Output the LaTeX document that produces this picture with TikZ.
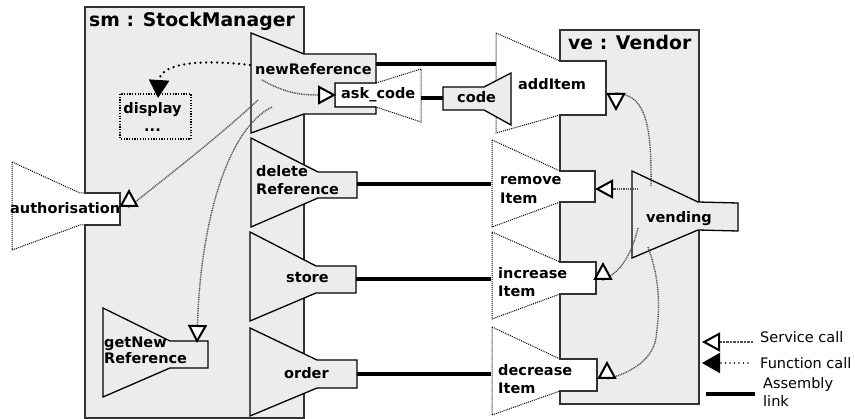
\documentclass[tikz,border=0pt]{standalone}
\usepackage{fontspec}
\setmainfont{DejaVu Sans}
\usetikzlibrary{arrows.meta}
\definecolor{compgray}{RGB}{236,236,236}
\definecolor{edgegray}{RGB}{50,50,50}
\definecolor{callgray}{RGB}{80,80,80}

\begin{document}
\begin{tikzpicture}[x=1pt,y=-1pt,
  component/.style={draw=edgegray, fill=compgray, line width=1.5pt},
  provided/.style={draw=black, fill=compgray, line width=1.3pt},
  required/.style={draw=black, fill=white, line width=1pt, dash pattern=on 1pt off 1pt},
  hidden/.style={draw=black, line width=1.1pt, dash pattern=on 1.2pt off 1.5pt},
  assembly/.style={draw=black, line width=3.2pt},
  service/.style={draw=callgray, line width=1.4pt, dash pattern=on 1pt off 0.8pt,
    -{Triangle[length=18pt, width=19pt, line width=2pt, color=black, fill=white]}},
  function/.style={draw=black, line width=2.6pt, line cap=round, dash pattern=on 0pt off 5.5pt,
    -{Triangle[length=18pt, width=20pt, color=black]}},
  lbl/.style={font=\fontsize{14.5}{17.5}\selectfont\bfseries, inner sep=0pt, anchor=base west},
  ttl/.style={font=\fontsize{18.8}{22}\selectfont\bfseries, inner sep=0pt, anchor=base west},
  legend/.style={font=\fontsize{14.5}{18}\selectfont, inner sep=0pt, anchor=base west}
]
\useasboundingbox (0,0) rectangle (855,419);

% ---------------- sm : StockManager ----------------
\path[required] (12,162) -- (80,193) -- (120,193) -- (120,225) -- (80,225) -- (12,250) -- cycle;
\path[component] (85,7) -- (304,7) -- (304,418) -- (85,418) -- (85,225) -- (120,225)
  -- (120,193) -- (85,193) -- cycle;
\path[hidden] (120,94) rectangle (191,139);

% ask_code sits in a notch of newReference
\path[required] (421,69) -- (376,83) -- (335,83) -- (335,107) -- (376,107) -- (421,122) -- cycle;
\path[provided] (251,33) -- (304,54) -- (376,54) -- (376,83) -- (335,83) -- (335,107)
  -- (376,107) -- (376,114) -- (304,114) -- (251,133) -- cycle;
\path[provided] (251,138) -- (318,172) -- (357,172) -- (357,198) -- (318,198) -- (251,227) -- cycle;
\path[provided] (250,232) -- (316,266) -- (356,266) -- (356,293) -- (316,293) -- (250,321) -- cycle;
\path[provided] (250,328) -- (317,360) -- (357,360) -- (357,388) -- (317,388) -- (250,416) -- cycle;
\path[provided] (103,308) -- (170,341) -- (208,341) -- (208,368) -- (170,368) -- (103,397) -- cycle;

% ---------------- ve : Vendor ----------------
\path[required] (496,33) -- (560,61) -- (606,61) -- (606,115) -- (560,115) -- (496,133) -- cycle;
\path[required] (492,140) -- (560,171) -- (595,171) -- (595,202) -- (560,202) -- (492,227) -- cycle;
\path[required] (492,232) -- (560,262) -- (596,262) -- (596,294) -- (560,294) -- (492,319) -- cycle;
\path[required] (492,327) -- (560,359) -- (597,359) -- (597,391) -- (560,391) -- (492,415) -- cycle;
\path[component] (560,30) -- (699,30) -- (699,404) -- (560,404) -- (560,391) -- (597,391)
  -- (597,359) -- (560,359) -- (560,294) -- (596,294) -- (596,262) -- (560,262)
  -- (560,202) -- (595,202) -- (595,171) -- (560,171) -- (560,115) -- (606,115)
  -- (606,61) -- (560,61) -- cycle;
\path[provided] (632,171) -- (698,202) -- (738,203) -- (738,231) -- (698,230) -- (632,258) -- cycle;
\path[provided] (511,73) -- (484,87) -- (443,87) -- (443,110) -- (484,110) -- (511,125) -- cycle;

% ---------------- connection points ----------------
\coordinate (nrOut)   at (376,64);  \coordinate (addIn)   at (496,64);
\coordinate (askOut)  at (421,98);  \coordinate (codeIn)  at (443,98);
\coordinate (delOut)  at (357,184); \coordinate (remIn)   at (491,184);
\coordinate (stoOut)  at (356,279); \coordinate (incIn)   at (491,279);
\coordinate (ordOut)  at (357,374); \coordinate (decIn)   at (491,374);

\coordinate (nrA) at (262,80);  \coordinate (askTip) at (336,95);
\coordinate (nrB) at (258,100); \coordinate (authBase) at (129,207); \coordinate (authTip) at (129,189);
\coordinate (nrC) at (272,107); \coordinate (gnrTip) at (197,343);
\coordinate (nrD) at (250,65);  \coordinate (dispTip) at (158,98);
\coordinate (vdA) at (651,186); \coordinate (addBase) at (616,93); \coordinate (addTip) at (616,111);
\coordinate (vdB) at (638,189); \coordinate (remTip) at (595,189);
\coordinate (vdC) at (638,228); \coordinate (incBase) at (603,280); \coordinate (incTip) at (603,262);
\coordinate (vdD) at (648,247); \coordinate (decMid) at (656,338);
\coordinate (decBase) at (607,379); \coordinate (decTip) at (607,361);

% ---------------- assembly links ----------------
\draw[assembly] (nrOut) -- (addIn);
\draw[assembly] (askOut) -- (codeIn);
\draw[assembly] (delOut) -- (remIn);
\draw[assembly] (stoOut) -- (incIn);
\draw[assembly] (ordOut) -- (decIn);

% ---------------- calls ----------------
\draw[function] (nrD) .. controls (190,58) and (160,66) .. (dispTip);
\draw[service] (nrA) .. controls (285,93) and (300,95) .. (askTip);
\draw[service] (nrB) .. controls (215,140) and (160,182) .. (authBase) -- (authTip);
\draw[service] (nrC) .. controls (225,130) and (200,230) .. (gnrTip);
\draw[service] (vdA) .. controls (652,115) and (642,95) .. (addBase) -- (addTip);
\draw[service] (vdB) -- (remTip);
\draw[service] (vdC) .. controls (632,252) and (622,272) .. (incBase) -- (incTip);
\draw[service] (vdD) .. controls (662,285) and (659,315) .. (decMid)
  .. controls (652,362) and (627,374) .. (decBase) -- (decTip);

% ---------------- labels ----------------
\node[ttl] (smT) at (89,27) {sm : StockManager};
\node[ttl] (veT) at (568,50) {ve : Vendor};
\node[lbl] (nrL) at (255,75) {newReference};
\node[lbl] (askL) at (341,99) {ask\_code};
\node[lbl] (codeL) at (457,103) {code};
\node[lbl] (addL) at (518,90) {addItem};
\node[lbl, anchor=base] (dispL) at (152.5,114) {\begin{tabular}[t]{@{}c@{}}display\\[0.5pt]...\end{tabular}};
\node[lbl] (authL) at (10,214) {authorisation};
\node[lbl] (delL) at (256,177) {\begin{tabular}[t]{@{}l@{}}delete\\Reference\end{tabular}};
\node[lbl] (stoL) at (286,283) {store};
\node[lbl] (ordL) at (284,379) {order};
\node[lbl] (gnrL) at (104,348) {\begin{tabular}[t]{@{}l@{}}getNew\\[-1.5pt]Reference\end{tabular}};
\node[lbl] (remL) at (500,185) {\begin{tabular}[t]{@{}l@{}}remove\\[1.5pt]Item\end{tabular}};
\node[lbl] (vendL) at (646,223) {vending};
\node[lbl] (incL) at (498,279) {\begin{tabular}[t]{@{}l@{}}increase\\[0.5pt]Item\end{tabular}};
\node[lbl] (decL) at (498,376) {\begin{tabular}[t]{@{}l@{}}decrease\\Item\end{tabular}};

% ---------------- legend ----------------
\coordinate (lgS1) at (753,342); \coordinate (lgS2) at (702,342);
\coordinate (lgF1) at (748,363); \coordinate (lgF2) at (702,363);
\coordinate (lgA1) at (706,394); \coordinate (lgA2) at (755,394);
\draw[service, dash pattern=on 0.8pt off 0.6pt] (lgS1) -- (lgS2);
\draw[function, line width=1.8pt, dash pattern=on 0pt off 4.5pt] (lgF1) -- (lgF2);
\draw[assembly] (lgA1) -- (lgA2);
\node[legend] (lgSL) at (760,343) {Service call};
\node[legend] (lgFL) at (760,369) {Function call};
\node[legend] (lgAL) at (763,389) {\begin{tabular}[t]{@{}l@{}}Assembly\\link\end{tabular}};
\end{tikzpicture}
\end{document}
